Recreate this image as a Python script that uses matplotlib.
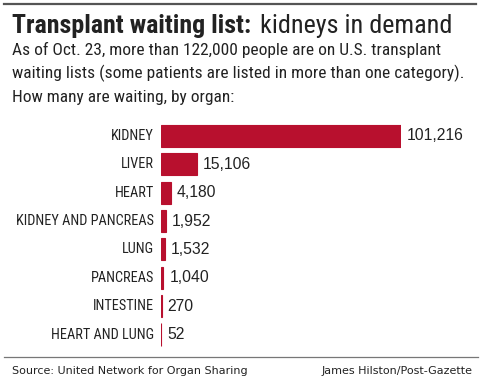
import matplotlib.pyplot as plt
from matplotlib.lines import Line2D

organs = ['KIDNEY', 'LIVER', 'HEART', 'KIDNEY AND PANCREAS', 'LUNG',
          'PANCREAS', 'INTESTINE', 'HEART AND LUNG']
waiting = [101216, 15106, 4180, 1952, 1532, 1040, 270, 52]

W, H = 481, 381
fig = plt.figure(figsize=(W / 100, H / 100), dpi=100)
fig.patch.set_facecolor('white')

cond = 'Roboto Condensed'
red = '#b8102e'
ink = '#222222'


def fx(x):
    return x / W


def fy(y):
    return 1 - y / H


def fit(t, width):
    # scale a text's font size so it spans the given width in pixels
    fig.canvas.draw()
    w = t.get_window_extent().width
    t.set_fontsize(t.get_fontsize() * width / w)


# header
fig.add_artist(Line2D([fx(4), fx(476)], [fy(4), fy(4)], color='#555555', lw=1.6))
t1 = fig.text(fx(12), fy(33), 'Transplant waiting list:', fontsize=16, fontweight='bold',
              family=cond, color=ink, va='baseline')
fit(t1, 240)
fig.canvas.draw()
bb = t1.get_window_extent()
t2 = fig.text((bb.x1 + 9) / W, fy(33), 'kidneys in demand', fontsize=16,
              family=cond, color=ink, va='baseline')
fit(t2, 193)
sub = ['As of Oct. 23, more than 122,000 people are on U.S. transplant',
       'waiting lists (some patients are listed in more than one category).',
       'How many are waiting, by organ:']
subs = [fig.text(fx(12), fy(55 + i * 23.5), line, fontsize=11, family=cond,
                 color=ink, va='baseline') for i, line in enumerate(sub)]
fit(subs[0], 426)
for s in subs[1:]:
    s.set_fontsize(subs[0].get_fontsize())

# bars
ax = fig.add_axes([fx(161), fy(348.7), fx(240), 226.9 / H])
ypos = list(range(len(organs)))
ax.barh(ypos, waiting, height=0.78, color=red, edgecolor=red, linewidth=0.8)
ax.set_xlim(0, max(waiting))
ax.set_ylim(len(organs) - 0.5, -0.5)
ax.axis('off')
labels = []
for y, name, v in zip(ypos, organs, waiting):
    labels.append(ax.annotate(name, (0, y), xytext=(-7, 0), textcoords='offset pixels',
                              ha='right', va='center', fontsize=10, family=cond,
                              color=ink, annotation_clip=False))
    ax.annotate(f'{v:,}', (v, y), xytext=(6, 0), textcoords='offset pixels',
                ha='left', va='center', fontsize=11.3, family='Liberation Sans',
                color=ink, annotation_clip=False)
fit(labels[3], 138)
for lab in labels:
    lab.set_fontsize(labels[3].get_fontsize())

# footer
fig.add_artist(Line2D([fx(4), fx(478)], [fy(357), fy(357)], color='#777777', lw=0.9))
fig.text(fx(12), fy(374), 'Source: United Network for Organ Sharing', fontsize=8,
         family='DejaVu Sans', color=ink, va='baseline')
fig.text(fx(473), fy(374), 'James Hilston/Post-Gazette', fontsize=8,
         family='DejaVu Sans', color=ink, va='baseline', ha='right')

fig.savefig('out.png', dpi=100)
